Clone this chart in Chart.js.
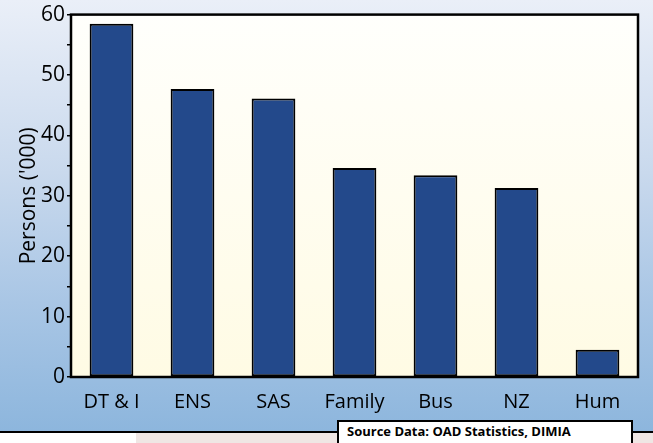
<!DOCTYPE html>
<html>
<head>
<meta charset="utf-8">
<script src="https://cdn.jsdelivr.net/npm/chart.js@4.4.0/dist/chart.umd.min.js"></script>
<style>
  html, body { margin: 0; padding: 0; }
  body { width: 653px; height: 443px; position: relative; overflow: hidden; background: #ffffff; }
  #top { position: absolute; left: 0; top: 0; width: 653px; height: 431px;
         background: linear-gradient(to bottom, #eaeff8 0%, #c9d9ed 40%, #a9c6e5 70%, #8db6dd 100%); }
  #line { position: absolute; left: 0; top: 431px; width: 653px; height: 2px; background: #000; }
  #pink { position: absolute; left: 136px; top: 433px; width: 517px; height: 10px; background: #efe6e4; }
  #src { position: absolute; left: 337px; top: 420px; width: 296px; height: 30px; background: #fff;
         border: 2px solid #000; font: bold 13px "Open Sans", sans-serif; color: #000;
         padding-left: 8px; line-height: 19px; box-sizing: border-box; }
  #chart { position: absolute; left: 0; top: 0; }
</style>
</head>
<body>
<div id="top"></div>
<div id="line"></div>
<div id="pink"></div>
<canvas id="chart" width="653" height="431"></canvas>
<div id="src">Source Data: OAD Statistics, DIMIA</div>
<script>
const categories = ['DT & I', 'ENS', 'SAS', 'Family', 'Bus', 'NZ', 'Hum'];
const persons = [58.5, 47.7, 46.1, 34.6, 33.4, 31.3, 4.5];
const yTicks = [0, 10, 20, 30, 40, 50, 60];

// plot area: cream gradient + black frame
const plotFrame = {
    id: 'plotFrame',
    beforeDatasetsDraw(chart) {
        const a = chart.chartArea, ctx = chart.ctx;
        const g = ctx.createLinearGradient(0, a.top, 0, a.bottom);
        g.addColorStop(0, '#fffffc');
        g.addColorStop(1, '#fffbe4');
        ctx.save();
        ctx.fillStyle = g;
        ctx.fillRect(a.left, a.top, a.right - a.left, a.bottom - a.top);
        ctx.restore();
    },
    afterDraw(chart) {
        const a = chart.chartArea, ctx = chart.ctx;
        ctx.save();
        ctx.strokeStyle = '#000';
        ctx.lineWidth = 2.5;
        ctx.strokeRect(a.left, a.top, a.right - a.left, a.bottom - a.top);
        ctx.restore();
    }
};

const ctx = document.getElementById('chart').getContext('2d');
new Chart(ctx, {
    type: 'bar',
    data: {
        labels: categories,
        datasets: [{
            data: persons,
            backgroundColor: '#23498b',
            borderColor: '#000',
            borderWidth: 2,
            borderSkipped: false,
            barPercentage: 0.54,
            categoryPercentage: 1
        }]
    },
    options: {
        responsive: false,
        animation: false,
        devicePixelRatio: 1,
        layout: { padding: { top: 14, right: 15, left: 0, bottom: 0 } },
        plugins: { legend: { display: false }, tooltip: { enabled: false } },
        scales: {
            x: {
                grid: { display: false, drawTicks: false },
                border: { display: false },
                ticks: { color: '#000', padding: 13, maxRotation: 0,
                    font: { family: 'Open Sans', size: 20 } },
                afterFit: (s) => { s.height = 54; }
            },
            y: {
                min: 0, max: 60,
                grid: { drawOnChartArea: false, drawTicks: true, tickLength: 4, color: '#000', lineWidth: 1.5 },
                border: { display: false },
                ticks: {
                    stepSize: 5, color: '#000', padding: 2,
                    font: { family: 'Open Sans', size: 21 },
                    callback: (v) => yTicks.includes(v) ? v : ''
                },
                title: { display: true, text: "Persons ('000)", color: '#000',
                    font: { family: 'Open Sans', size: 21 }, padding: { top: 16, bottom: 0 } },
                afterFit: (s) => { s.width = 71; }
            }
        }
    },
    plugins: [plotFrame]
});
</script>
</body>
</html>
